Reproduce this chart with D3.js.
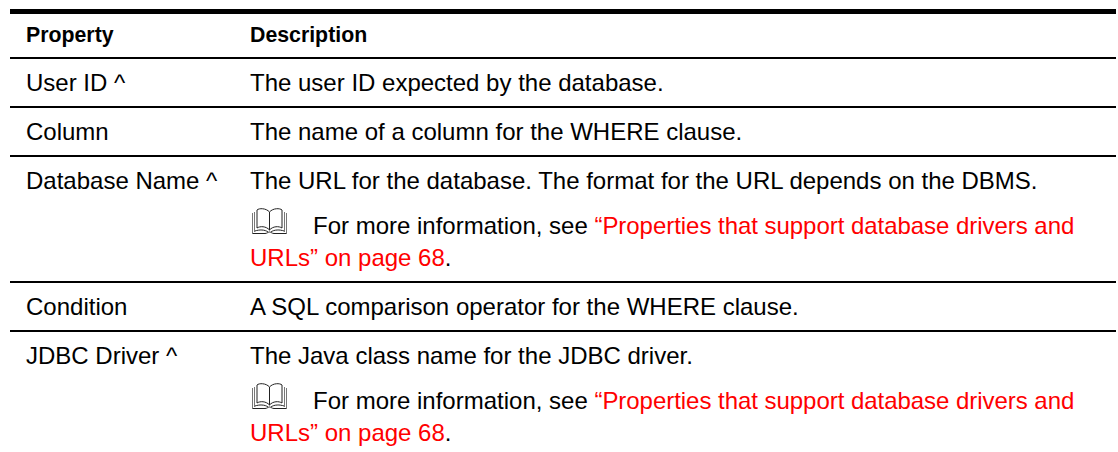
<!DOCTYPE html>
<html>
<head>
<meta charset="utf-8">
<script src="https://cdn.jsdelivr.net/npm/d3@7"></script>
<style>
    html, body { margin: 0; padding: 0; background: #fff; overflow: hidden; }
    svg { display: block; }
    text { font-family: "Liberation Sans", Arial, sans-serif; font-size: 24px; fill: #000; }
    .head { font-weight: bold; font-size: 21.3px; }
    .link { fill: #f00; }
    .tight { letter-spacing: -0.04px; }
</style>
</head>
<body>
<svg id="chart" width="1118" height="452"></svg>
<script>
var headers = ['Property', 'Description'];
var properties = ['User ID ^', 'Column', 'Database Name ^', 'Condition', 'JDBC Driver ^'];
var descriptions = [
    'The user ID expected by the database.',
    'The name of a column for the WHERE clause.',
    'The URL for the database. The format for the URL depends on the DBMS.',
    'A SQL comparison operator for the WHERE clause.',
    'The Java class name for the JDBC driver.'
];
var hasNote = [false, false, true, false, true];
var noteIntro = 'For more information, see ';
var noteLink1 = '\u201CProperties that support database drivers and';
var noteLink2 = 'URLs\u201D on page 68';

var svg = d3.select('#chart');

var x = d3.scaleOrdinal().domain(headers).range([26, 250]);

// a plain row is 49px, a row with a note 126px
var tops = [];
var cur = 59;
hasNote.forEach(function(note) {
    tops.push(cur);
    cur += note ? 126 : 49;
});

// rules
svg.append('rect').attr('x', 10).attr('y', 9).attr('width', 1106).attr('height', 5);
svg.append('rect').attr('x', 10).attr('y', 57).attr('width', 1106).attr('height', 2);
svg.selectAll('.rule').data(tops.slice(1)).enter().append('rect')
    .attr('class', 'rule')
    .attr('x', 10)
    .attr('y', function(t) { return t - 2; })
    .attr('width', 1106)
    .attr('height', 2);

// header
svg.selectAll('.head').data(headers).enter().append('text')
    .attr('class', 'head')
    .attr('x', function(d) { return x(d); })
    .attr('y', 42)
    .text(function(d) { return d; });

// rows
svg.selectAll('.prop').data(properties).enter().append('text')
    .attr('class', 'prop')
    .attr('x', x('Property'))
    .attr('y', function(d, i) { return tops[i] + 32; })
    .text(function(d) { return d; });

svg.selectAll('.desc').data(descriptions).enter().append('text')
    .attr('class', 'desc')
    .attr('x', x('Description'))
    .attr('y', function(d, i) { return tops[i] + 32; })
    .text(function(d) { return d; });

// book icon, 35 x 26
function drawBook(g) {
    g.attr('fill', 'none').attr('stroke-width', 1);
    // page edges
    g.append('path')
        .attr('d', 'M0.5,5 L0.5,25.5 M2.5,4 L2.5,24 M32.5,4 L32.5,24 M34.5,5 L34.5,25.5')
        .attr('stroke', '#777');
    // pages
    g.append('path')
        .attr('d', 'M17.5,4 C14,0 7,0 5,2 L5,20 C8,18 14,18 17.5,22 C21,18 27,18 30,20 L30,2 C28,0 21,0 17.5,4 Z M17.5,4 L17.5,22')
        .attr('stroke', '#222');
    // cover
    g.append('path')
        .attr('d', 'M0.5,25.5 L13,25.5 C15,25.5 16,24 17.5,24 C19,24 20,25.5 22,25.5 L34.5,25.5 M3,23 C7,21.5 13,21.5 16,24 M32,23 C28,21.5 22,21.5 19,24')
        .attr('stroke', '#222');
}

tops.forEach(function(t, i) {
    if (!hasNote[i]) return;
    drawBook(svg.append('g').attr('transform', 'translate(252,' + (t + 51) + ')'));

    var line1 = svg.append('text').attr('x', 313).attr('y', t + 77);
    line1.append('tspan').text(noteIntro);
    line1.append('tspan').attr('class', 'link tight').text(noteLink1);

    var line2 = svg.append('text').attr('x', x('Description')).attr('y', t + 109);
    line2.append('tspan').attr('class', 'link').text(noteLink2);
    line2.append('tspan').text('.');
});
</script>
</body>
</html>
